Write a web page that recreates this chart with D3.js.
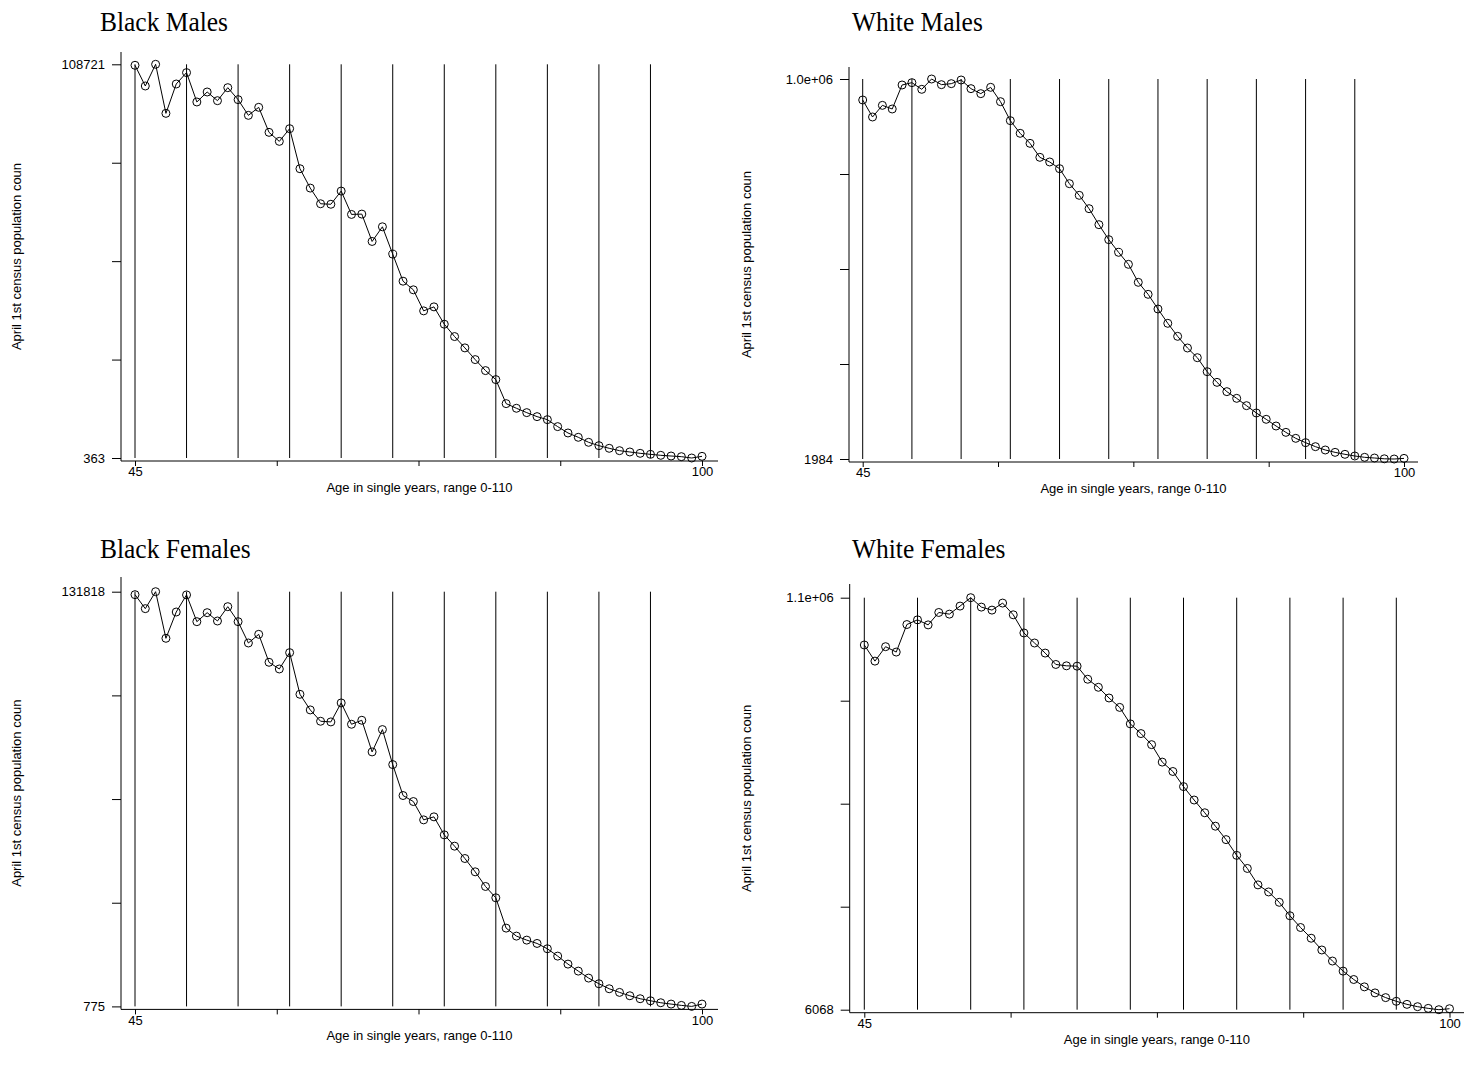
<!DOCTYPE html>
<html>
<head>
<meta charset="utf-8">
<script src="https://cdn.jsdelivr.net/npm/d3@7"></script>
<style>
body { margin: 0; background: #fff; }
text { font-family: "Liberation Sans", Arial, sans-serif; fill: #000; }
.ptitle { font-family: "Liberation Serif", "Times New Roman", serif; }
</style>
</head>
<body>
<script>
// ages 45..100, one point per single year
var ages = d3.range(45, 101);

var blackMales = [108450, 102750, 108721, 95220, 103300, 106430, 98350, 101100, 98710, 102290,
  98990, 94670, 96880, 89990, 87510, 91000, 79980, 74650, 70340, 70200,
  73830, 67400, 67490, 59960, 64000, 56470, 49030, 46650, 40860, 41960,
  37190, 33790, 30670, 27450, 24420, 21940, 15330, 14050, 12850, 11750,
  10920, 9000, 7250, 6060, 4680, 3760, 3030, 2380, 2020, 1650,
  1370, 1100, 910, 730, 363, 820];

var whiteMales = [947700, 902900, 933600, 924000, 987200, 993400, 975800, 1003000, 988100, 990700,
  1000400, 977600, 964400, 981100, 943300, 893300, 859900, 833500, 796700, 784400,
  766800, 727300, 696600, 661400, 619300, 579800, 546400, 514800, 467400, 435800,
  397100, 359400, 325100, 294400, 268900, 232000, 203900, 179400, 161800, 142500,
  123200, 106500, 88900, 72200, 56400, 45000, 34500, 25700, 19500, 14300,
  9900, 6400, 4600, 2500, 1984, 3600];

var blackFemales = [130880, 126460, 131818, 117090, 125400, 130800, 122350, 125190, 122560, 127090,
  122350, 115610, 118350, 109510, 107400, 112560, 99400, 94460, 90880, 90670,
  96670, 89930, 91190, 81190, 88250, 77190, 67410, 65510, 59720, 60670,
  54980, 51410, 47510, 43300, 38670, 35090, 25510, 22990, 21720, 20670,
  18990, 16670, 14140, 11930, 9720, 7930, 6350, 5200, 4140, 3200,
  2560, 1930, 1510, 1090, 775, 1510];

var whiteFemales = [976200, 933300, 971700, 957400, 1030600, 1043100, 1029700, 1062700, 1058300, 1079700,
  1102000, 1077000, 1069000, 1087700, 1056500, 1008300, 981500, 954700, 924400, 920800,
  919900, 885100, 863700, 835200, 810200, 766400, 740600, 711100, 664700, 639700,
  599500, 563800, 529900, 494200, 458500, 416600, 381800, 338100, 319300, 291700,
  256000, 224700, 196200, 164900, 135500, 108700, 86400, 66800, 50700, 38200,
  28400, 20300, 14100, 9600, 6068, 8700];

var panelTitles = ["Black Males", "White Males", "Black Females", "White Females"];
var xTitle = "Age in single years, range 0-110";
var yTitle = "April 1st census population coun";
var refAges = [45, 50, 55, 60, 65, 70, 75, 80, 85, 90, 95];

var W = 1472, H = 1070;
var svg = d3.select("body").append("svg")
    .attr("width", W)
    .attr("height", H);

// placement of each graph on the page (pixels)
var panels = [
  {title: panelTitles[0], values: blackMales, left: 135, right: 702, top: 64.3, bottom: 458,
   axisX: 121, plotTop: 52, plotRight: 718, titleX: 100, titleY: 31, yTitleX: 21},
  {title: panelTitles[1], values: whiteMales, left: 862.7, right: 1404, top: 79, bottom: 459,
   axisX: 849, plotTop: 67, plotRight: 1418, titleX: 852, titleY: 31, yTitleX: 751},
  {title: panelTitles[2], values: blackFemales, left: 135, right: 702, top: 591.7, bottom: 1006.4,
   axisX: 121, plotTop: 577, plotRight: 718, titleX: 100, titleY: 558, yTitleX: 21},
  {title: panelTitles[3], values: whiteFemales, left: 864.3, right: 1449.5, top: 597.7, bottom: 1009.7,
   axisX: 849.7, plotTop: 584, plotRight: 1464, titleX: 852, titleY: 558, yTitleX: 751}
];

function fmt(v)
{
    if (v >= 1e6) {
        return v.toExponential(1).replace(/e\+(\d)$/, "e+0$1");
    }
    return String(Math.round(v));
}

function drawPanel(p)
{
    var g = svg.append("g");
    var ymin = d3.min(p.values), ymax = d3.max(p.values);
    var axisY = p.bottom + 3;

    var x = d3.scaleLinear().domain([45, 100]).range([p.left, p.right]);
    var y = d3.scaleLinear().domain([ymin, ymax]).range([p.bottom, p.top]);

    // title (tall, slightly condensed serif)
    g.append("text")
        .attr("class", "ptitle")
        .attr("transform", "translate(" + p.titleX + "," + p.titleY + ") scale(0.91,1)")
        .attr("font-size", 28)
        .text(p.title);

    // reference lines every 5 years
    g.append("g").selectAll("line")
        .data(refAges)
        .enter()
        .append("line")
        .attr("x1", d => x(d)).attr("x2", d => x(d))
        .attr("y1", y(ymax)).attr("y2", y(ymin))
        .attr("stroke", "#000")
        .attr("stroke-width", 1);

    // axis lines
    g.append("line")
        .attr("x1", p.axisX).attr("x2", p.axisX)
        .attr("y1", p.plotTop).attr("y2", axisY)
        .attr("stroke", "#000");
    g.append("line")
        .attr("x1", p.axisX).attr("x2", p.plotRight)
        .attr("y1", axisY).attr("y2", axisY)
        .attr("stroke", "#000");

    // y axis: 5 ticks, labels at the ends only
    var yTicks = d3.range(5).map(i => ymin + (ymax - ymin) * i / 4);
    var yAxis = d3.axisLeft(y)
        .tickValues(yTicks)
        .tickSize(9)
        .tickPadding(7)
        .tickFormat((d, i) => (i === 0 || i === 4) ? fmt(d) : "");
    var ya = g.append("g")
        .attr("transform", "translate(" + p.axisX + ",0)")
        .call(yAxis);
    ya.select(".domain").remove();
    ya.selectAll("text").attr("font-size", 13).attr("font-family", null);

    var xTicks = [45, 58.75, 72.5, 86.25, 100];
    var xAxis = d3.axisBottom(x)
        .tickValues(xTicks)
        .tickSize(5)
        .tickPadding(1)
        .tickFormat((d, i) => (i === 0 || i === 4) ? d : "");
    var xa = g.append("g")
        .attr("transform", "translate(0," + axisY + ")")
        .call(xAxis);
    xa.select(".domain").remove();
    xa.selectAll("text").attr("font-size", 13).attr("font-family", null);

    // axis titles
    g.append("text")
        .attr("x", (p.axisX + p.plotRight) / 2)
        .attr("y", axisY + 31)
        .attr("text-anchor", "middle")
        .attr("font-size", 13)
        .text(xTitle);
    g.append("text")
        .attr("transform", "translate(" + p.yTitleX + "," + ((p.plotTop + axisY) / 2) + ") rotate(-90)")
        .attr("text-anchor", "middle")
        .attr("font-size", 13)
        .text(yTitle);

    // connected series with hollow circles
    var line = d3.line()
        .x((d, i) => x(ages[i]))
        .y(d => y(d));
    g.append("path")
        .datum(p.values)
        .attr("d", line)
        .attr("fill", "none")
        .attr("stroke", "#000")
        .attr("stroke-width", 1);
    g.append("g").selectAll("circle")
        .data(p.values)
        .enter()
        .append("circle")
        .attr("cx", (d, i) => x(ages[i]))
        .attr("cy", d => y(d))
        .attr("r", 4)
        .attr("fill", "none")
        .attr("stroke", "#000")
        .attr("stroke-width", 1);
}

panels.forEach(drawPanel);
</script>
</body>
</html>
